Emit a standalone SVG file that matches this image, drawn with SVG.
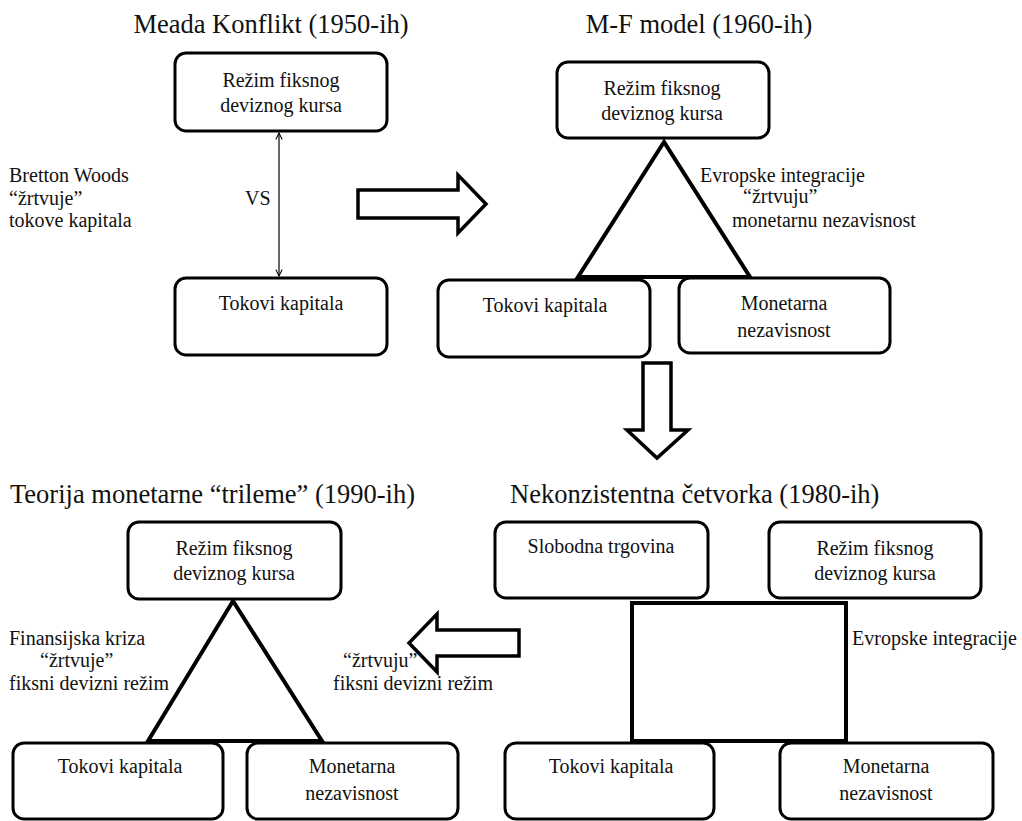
<svg xmlns="http://www.w3.org/2000/svg" width="1022" height="821" viewBox="0 0 1022 821">
<style>
.box{fill:#fff;stroke:#000;stroke-width:3}
.c{text-anchor:middle}
.line{fill:none;stroke:#000;stroke-width:4;stroke-linejoin:miter}
.thin{fill:none;stroke:#000;stroke-width:1.2}
.blk{fill:#fff;stroke:#000;stroke-width:3.5;stroke-linejoin:miter}
</style>
<defs>
<marker id="ah" viewBox="0 0 10 10" refX="9" refY="5" markerWidth="8" markerHeight="8" orient="auto-start-reverse" markerUnits="userSpaceOnUse">
<path d="M1,1 L9,5 L1,9" fill="none" stroke="#000" stroke-width="1.3"/>
</marker>
</defs>
<rect width="1022" height="821" fill="#fff"/>

<g style="font-family:'Liberation Serif',serif;font-size:20px;fill:#111">
<!-- Titles -->
<g id="titles" style="font-size:26.5px">
<text class="c" x="271" y="33">Meada Konflikt (1950-ih)</text>
<text class="c" x="699" y="33">M-F model (1960-ih)</text>
<text x="10" y="503">Teorija monetarne “trileme” (1990-ih)</text>
<text x="510" y="503">Nekonzistentna četvorka (1980-ih)</text>
</g>

<!-- Connectors -->
<g id="connectors">
<line class="thin" x1="279" y1="133" x2="279" y2="276" marker-start="url(#ah)" marker-end="url(#ah)"/>
<polygon class="line" points="664,142 578,277 750,277"/>
<polygon class="line" points="233,601 148,741 322,741"/>
<rect class="line" x="632" y="603" width="214" height="138"/>
<polygon class="blk" points="358,190 458,190 458,175 486,204 458,233 458,218 358,218"/>
<polygon class="blk" points="643,363 671,363 671,430 688,430 657,458 627,430 643,430"/>
<polygon class="blk" points="519,630 437,630 437,614 409,643 437,672 437,656 519,656"/>
</g>

<!-- Labels -->
<g id="labels">
<text x="245" y="205">VS</text>
<text x="9" y="182">Bretton Woods</text>
<text x="9" y="205">“žrtvuje”</text>
<text x="9" y="227">tokove kapitala</text>
<text x="700" y="182">Evropske integracije</text>
<text x="743" y="203">“žrtvuju”</text>
<text x="732" y="227">monetarnu nezavisnost</text>
<text x="9" y="645">Finansijska kriza</text>
<text x="40" y="667">“žrtvuje”</text>
<text x="9" y="690">fiksni devizni režim</text>
<text x="343" y="667">“žrtvuju”</text>
<text x="333" y="690">fiksni devizni režim</text>
<text x="852" y="645">Evropske integracije</text>
</g>

<!-- Meada nodes -->
<g id="meada-fix">
<rect class="box" x="175" y="53" width="212" height="78" rx="11"/>
<text class="c" x="281" y="87">Režim fiksnog</text>
<text class="c" x="281" y="112">deviznog kursa</text>
</g>
<g id="meada-cap">
<rect class="box" x="175" y="278" width="212" height="77" rx="11"/>
<text class="c" x="281" y="310">Tokovi kapitala</text>
</g>

<!-- M-F nodes -->
<g id="mf-fix">
<rect class="box" x="557" y="62" width="212" height="76" rx="11"/>
<text class="c" x="662" y="95">Režim fiksnog</text>
<text class="c" x="662" y="120">deviznog kursa</text>
</g>
<g id="mf-cap">
<rect class="box" x="438" y="280" width="212" height="77" rx="11"/>
<text class="c" x="545" y="312">Tokovi kapitala</text>
</g>
<g id="mf-mon">
<rect class="box" x="679" y="278" width="211" height="75" rx="11"/>
<text class="c" x="784" y="310">Monetarna</text>
<text class="c" x="784" y="337">nezavisnost</text>
</g>

<!-- Trilema nodes -->
<g id="tri-fix">
<rect class="box" x="128" y="522" width="213" height="77" rx="11"/>
<text class="c" x="234" y="555">Režim fiksnog</text>
<text class="c" x="234" y="580">deviznog kursa</text>
</g>
<g id="tri-cap">
<rect class="box" x="13" y="743" width="210" height="76" rx="11"/>
<text class="c" x="120" y="773">Tokovi kapitala</text>
</g>
<g id="tri-mon">
<rect class="box" x="247" y="743" width="211" height="76" rx="11"/>
<text class="c" x="352" y="773">Monetarna</text>
<text class="c" x="352" y="800">nezavisnost</text>
</g>

<!-- Cetvorka nodes -->
<g id="q-trade">
<rect class="box" x="495" y="522" width="213" height="76" rx="11"/>
<text class="c" x="601" y="553">Slobodna trgovina</text>
</g>
<g id="q-fix">
<rect class="box" x="769" y="522" width="212" height="76" rx="11"/>
<text class="c" x="875" y="555">Režim fiksnog</text>
<text class="c" x="875" y="580">deviznog kursa</text>
</g>
<g id="q-cap">
<rect class="box" x="505" y="743" width="209" height="76" rx="11"/>
<text class="c" x="611" y="773">Tokovi kapitala</text>
</g>
<g id="q-mon">
<rect class="box" x="780" y="743" width="213" height="76" rx="11"/>
<text class="c" x="886" y="773">Monetarna</text>
<text class="c" x="886" y="800">nezavisnost</text>
</g>
</g>
</svg>
